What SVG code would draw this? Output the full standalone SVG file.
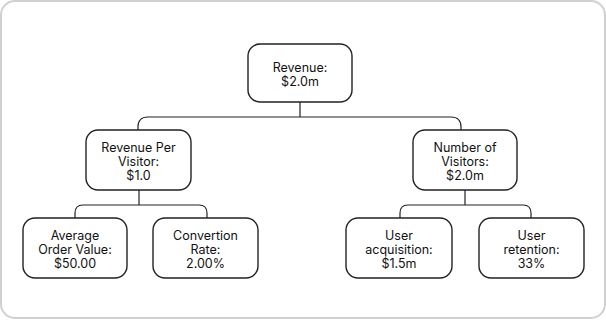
<svg xmlns="http://www.w3.org/2000/svg" width="606" height="320" viewBox="0 0 606 320">
<style>
.frame{fill:#fff;stroke:#d0d0d0;stroke-width:2}
.box{fill:#fff;stroke:#222;stroke-width:1.4}
.conn{fill:none;stroke:#222;stroke-width:1.2}
text{font-family:Inter,"Liberation Sans",sans-serif;font-size:12.5px;fill:#111;text-anchor:middle}
</style>
<rect class="frame" x="1" y="1" width="604" height="317" rx="14"/>
<g id="connectors">
<path class="conn" d="M300 102 V117"/>
<path class="conn" d="M138 130 V127 Q138 117 148 117 H451 Q461 117 461 127 V130"/>
<path class="conn" d="M139 190 V205"/>
<path class="conn" d="M75 218 V213 Q75 205 83 205 H199 Q207 205 207 213 V218"/>
<path class="conn" d="M465 190 V205"/>
<path class="conn" d="M400 218 V213 Q400 205 408 205 H523 Q531 205 531 213 V218"/>
</g>
<g id="revenue">
<rect class="box" x="248" y="44" width="104" height="58" rx="12"/>
<text x="300" y="71.5">Revenue:</text>
<text x="300" y="85.5">$2.0m</text>
</g>
<g id="revenue-per-visitor">
<rect class="box" x="86" y="130" width="105" height="60" rx="12"/>
<text x="138.5" y="151.5">Revenue Per</text>
<text x="138.5" y="165.5">Visitor:</text>
<text x="138.5" y="179.5">$1.0</text>
</g>
<g id="number-of-visitors">
<rect class="box" x="413" y="130" width="104" height="60" rx="12"/>
<text x="465" y="151.5">Number of</text>
<text x="465" y="165.5">Visitors:</text>
<text x="465" y="179.5">$2.0m</text>
</g>
<g id="average-order-value">
<rect class="box" x="23" y="218" width="104" height="60" rx="12"/>
<text x="75" y="239.5">Average</text>
<text x="75" y="253.5">Order Value:</text>
<text x="75" y="267.5">$50.00</text>
</g>
<g id="convertion-rate">
<rect class="box" x="153" y="218" width="105" height="60" rx="12"/>
<text x="205.5" y="239.5">Convertion</text>
<text x="205.5" y="253.5">Rate:</text>
<text x="205.5" y="267.5">2.00%</text>
</g>
<g id="user-acquisition">
<rect class="box" x="346" y="218" width="106" height="60" rx="12"/>
<text x="399" y="239.5">User</text>
<text x="399" y="253.5">acquisition:</text>
<text x="399" y="267.5">$1.5m</text>
</g>
<g id="user-retention">
<rect class="box" x="479" y="218" width="105" height="60" rx="12"/>
<text x="531.5" y="239.5">User</text>
<text x="531.5" y="253.5">retention:</text>
<text x="531.5" y="267.5">33%</text>
</g>
</svg>
